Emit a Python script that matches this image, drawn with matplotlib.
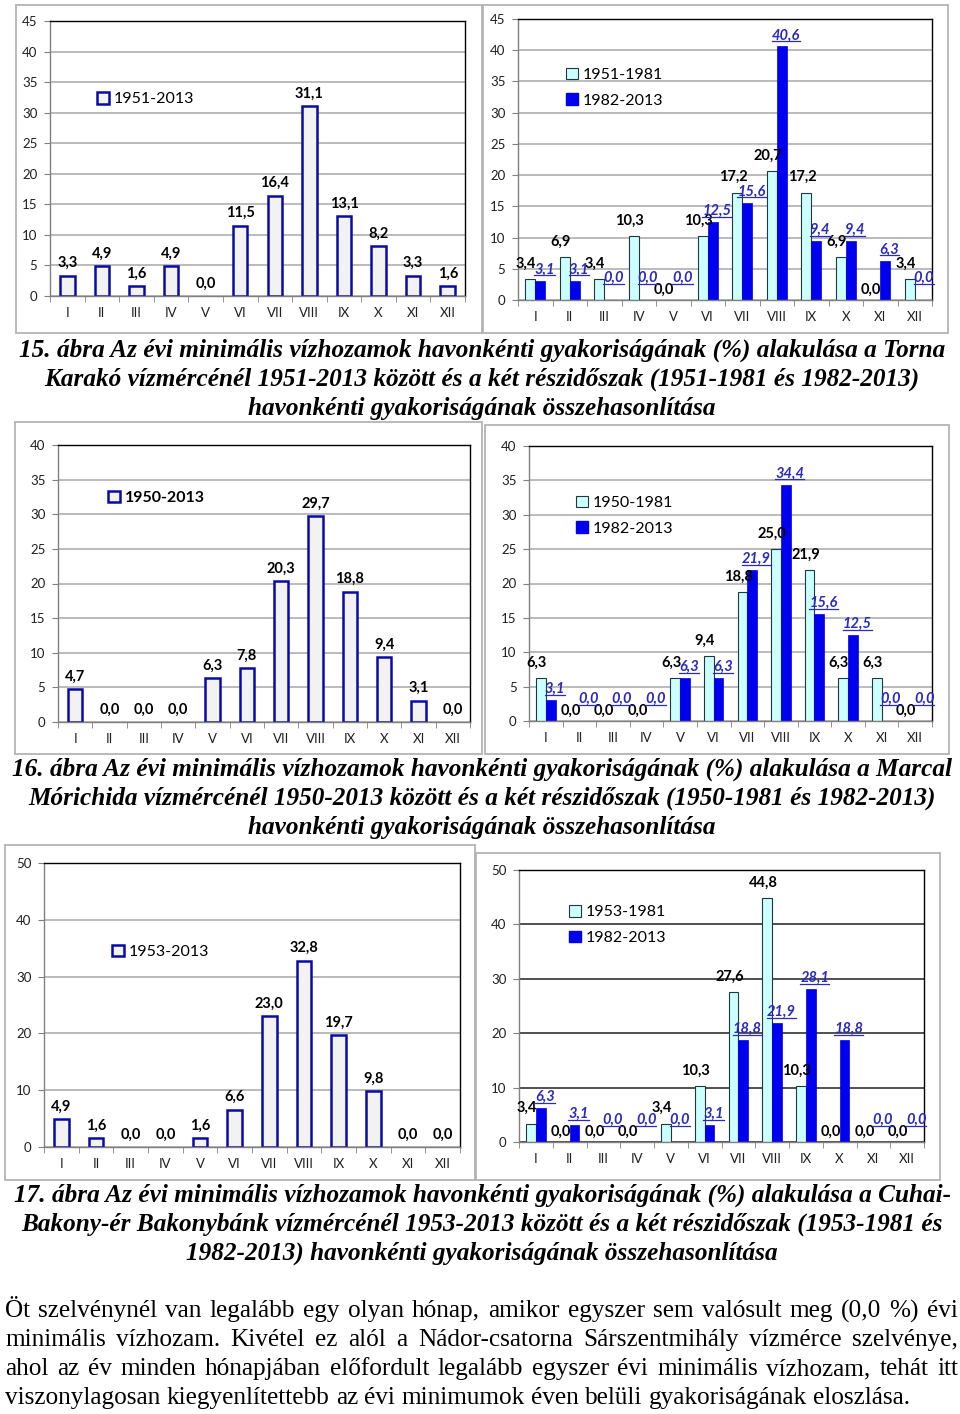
import numpy as np
import matplotlib.pyplot as plt
from matplotlib.patches import Patch, Rectangle
from matplotlib.lines import Line2D

plt.rcParams['font.family'] = ['Lato', 'DejaVu Sans']

months = ['I', 'II', 'III', 'IV', 'V', 'VI', 'VII', 'VIII', 'IX', 'X', 'XI', 'XII']

# Torna, Karakó
torna_all = [3.3, 4.9, 1.6, 4.9, 0.0, 11.5, 16.4, 31.1, 13.1, 8.2, 3.3, 1.6]
torna_early = [3.4, 6.9, 3.4, 10.3, 0.0, 10.3, 17.2, 20.7, 17.2, 6.9, 0.0, 3.4]
torna_late = [3.1, 3.1, 0.0, 0.0, 0.0, 12.5, 15.6, 40.6, 9.4, 9.4, 6.3, 0.0]

# Marcal, Mórichida
marcal_all = [4.7, 0.0, 0.0, 0.0, 6.3, 7.8, 20.3, 29.7, 18.8, 9.4, 3.1, 0.0]
marcal_early = [6.3, 0.0, 0.0, 0.0, 6.3, 9.4, 18.8, 25.0, 21.9, 6.3, 6.3, 0.0]
marcal_late = [3.1, 0.0, 0.0, 0.0, 6.3, 6.3, 21.9, 34.4, 15.6, 12.5, 0.0, 0.0]

# Cuhai-Bakony-ér, Bakonybánk
cuhai_all = [4.9, 1.6, 0.0, 0.0, 1.6, 6.6, 23.0, 32.8, 19.7, 9.8, 0.0, 0.0]
cuhai_early = [3.4, 0.0, 0.0, 0.0, 3.4, 10.3, 27.6, 44.8, 10.3, 0.0, 0.0, 0.0]
cuhai_late = [6.3, 3.1, 0.0, 0.0, 0.0, 3.1, 18.8, 21.9, 28.1, 18.8, 0.0, 0.0]

captions = [
    ["15. ábra Az évi minimális vízhozamok havonkénti gyakoriságának (%) alakulása a Torna",
     "Karakó vízmércénél 1951-2013 között és a két részidőszak (1951-1981 és 1982-2013)",
     "havonkénti gyakoriságának összehasonlítása"],
    ["16. ábra Az évi minimális vízhozamok havonkénti gyakoriságának (%) alakulása a Marcal",
     "Mórichida vízmércénél 1950-2013 között és a két részidőszak (1950-1981 és 1982-2013)",
     "havonkénti gyakoriságának összehasonlítása"],
    ["17. ábra Az évi minimális vízhozamok havonkénti gyakoriságának (%) alakulása a Cuhai-",
     "Bakony-ér Bakonybánk vízmércénél 1953-2013 között és a két részidőszak (1953-1981 és",
     "1982-2013) havonkénti gyakoriságának összehasonlítása"],
]

paragraph = [
    "Öt szelvénynél van legalább egy olyan hónap, amikor egyszer sem valósult meg (0,0 %) évi",
    "minimális vízhozam. Kivétel ez alól a Nádor-csatorna Sárszentmihály vízmérce szelvénye,",
    "ahol az év minden hónapjában előfordult legalább egyszer évi minimális vízhozam, tehát itt",
    "viszonylagosan kiegyenlítettebb az évi minimumok éven belüli gyakoriságának eloszlása.",
]

W, H = 960, 1414
fig = plt.figure(figsize=(9.6, 14.14), dpi=100)

BLUE = '#0000EE'
LINK = '#2A2AC0'
CYAN = '#CCFFFF'
LBL = 10.5
underlined = []


def box(l, t, r, b):
    return [l / W, 1 - b / H, (r - l) / W, (b - t) / H]


def frame(l, t, r, b):
    fig.add_artist(Rectangle((l / W, 1 - b / H), (r - l) / W, (b - t) / H,
                             transform=fig.transFigure, fill=False,
                             edgecolor='#B4B4B4', lw=1.3))


def fmt(v):
    return f'{v:.1f}'.replace('.', ',')


def setup(ax, ymax, ystep, grid_color='#A8A8A8'):
    ax.set_xlim(-0.5, 11.5)
    ax.set_ylim(0, ymax)
    ax.set_yticks(np.arange(0, ymax + 1, ystep))
    ax.yaxis.grid(True, color=grid_color, lw=1.1)
    ax.set_axisbelow(True)
    ax.set_xticks(np.arange(12))
    ax.set_xticklabels(months)
    ax.set_xticks(np.arange(-0.5, 12, 1), minor=True)
    ax.tick_params(axis='x', which='major', length=0, pad=8, labelsize=9.5, labelcolor='#202020')
    ax.tick_params(axis='x', which='minor', length=4, color='#808080')
    ax.tick_params(axis='y', length=4, pad=5, labelsize=9.5, labelcolor='#202020', color='#808080')
    for s in ax.spines.values():
        s.set_color('black')
        s.set_linewidth(1.0)
    ax.spines['bottom'].set_color('#808080')
    ax.spines['left'].set_color('#808080')


def single(pos, vals, ymax, ystep, name, leg_xy, bold_leg=False):
    ax = fig.add_axes(box(*pos))
    setup(ax, ymax, ystep)
    x = np.arange(12)
    bars = ax.bar(x, vals, width=0.42, facecolor='#F2F2F2', edgecolor='#0A0AA8', linewidth=1.8)
    for b, v in zip(bars, vals):
        if v == 0:
            b.set_linewidth(0)
    for xi, v in zip(x, vals):
        ax.annotate(fmt(v), (xi, v), xytext=(0, 4), textcoords='offset points',
                    ha='center', va='bottom', fontsize=LBL, fontweight='bold')
    h = [Patch(facecolor='#F2F2F2', edgecolor='#0A0AA8', linewidth=1.8)]
    ax.legend(h, [name], loc='center left', bbox_to_anchor=leg_xy, frameon=False,
              handlelength=0.75, handleheight=0.75, handletextpad=0.3,
              borderpad=0, borderaxespad=0,
              prop={'size': 11.5, 'weight': 'bold' if bold_leg else 'normal'})
    return ax


def double(pos, v1, v2, ymax, ystep, names, leg_xy, grid_color='#A8A8A8'):
    ax = fig.add_axes(box(*pos))
    setup(ax, ymax, ystep, grid_color)
    x = np.arange(12)
    w = 0.29
    b1 = ax.bar(x - w / 2, v1, w, facecolor=CYAN, edgecolor='#203838', linewidth=0.8)
    b2 = ax.bar(x + w / 2, v2, w, facecolor=BLUE, edgecolor=BLUE, linewidth=0.5)
    for b, v in list(zip(b1, v1)) + list(zip(b2, v2)):
        if v == 0:
            b.set_linewidth(0)
    for xi, v in zip(x, v1):
        dy = 2 if v == 0 else 6
        ax.annotate(fmt(v), (xi - w / 2, v), xytext=(-3, dy), textcoords='offset points',
                    ha='center', va='bottom', fontsize=LBL, fontweight='bold')
    for xi, v in zip(x, v2):
        dy = 11 if v == 0 else 3
        t = ax.annotate(fmt(v), (xi + w / 2, v), xytext=(3, dy), textcoords='offset points',
                        ha='center', va='bottom', fontsize=LBL, fontweight='bold',
                        fontstyle='italic', color=LINK)
        underlined.append(t)
    h = [Patch(facecolor=CYAN, edgecolor='#203838', linewidth=0.8),
         Patch(facecolor=BLUE, edgecolor=BLUE)]
    ax.legend(h, names, loc='center left', bbox_to_anchor=leg_xy, frameon=False,
              handlelength=0.75, handleheight=0.75, handletextpad=0.3,
              borderpad=0, borderaxespad=0, labelspacing=0.7, prop={'size': 11.5})
    return ax


# chart frames
frame(16, 5, 482, 333)
frame(483, 5, 948, 333)
frame(15, 422, 482, 754)
frame(485, 425, 949, 754)
frame(5, 845, 475, 1180)
frame(476, 853, 940, 1180)

single((50, 21, 465, 296), torna_all, 45, 5, '1951-2013', (0.113, 0.716))
double((518, 19, 932, 300), torna_early, torna_late, 45, 5,
       ['1951-1981', '1982-2013'], (0.116, 0.756))
single((58, 445, 470, 722), marcal_all, 40, 5, '1950-2013', (0.121, 0.809), bold_leg=True)
double((529, 446, 932, 721), marcal_early, marcal_late, 40, 5,
       ['1950-1981', '1982-2013'], (0.117, 0.747))
single((44, 863, 460, 1147), cuhai_all, 50, 10, '1953-2013', (0.163, 0.687))
double((519, 870, 924, 1142), cuhai_early, cuhai_late, 50, 10,
       ['1953-1981', '1982-2013'], (0.123, 0.798), grid_color='#202020')

# figure captions
serif = ['Liberation Serif', 'DejaVu Serif']
FS = 18.2
for lines, y0 in zip(captions, [350, 769, 1195]):
    for i, line in enumerate(lines):
        fig.text(482 / W, 1 - (y0 + 29 * i) / H, line, ha='center', va='center',
                 family=serif, style='italic', weight='bold', fontsize=FS)

# justified paragraph
renderer = fig.canvas.get_renderer()
for i, line in enumerate(paragraph):
    y = 1311 + 29 * i
    words = line.split(' ')
    widths = []
    for wd in words:
        t = fig.text(0, 0, wd, family=serif, fontsize=FS)
        widths.append(t.get_window_extent(renderer).width)
        t.remove()
    if i < len(paragraph) - 1:
        gap = (958 - 5 - sum(widths)) / (len(words) - 1)
    else:
        gap = 0.25 * FS * 100 / 72
    x = 5
    for wd, wdt in zip(words, widths):
        fig.text(x / W, 1 - y / H, wd, ha='left', va='center', family=serif, fontsize=FS)
        x += wdt + gap

# underline the italic data labels (hyperlink look of the original)
fig.canvas.draw()
inv = fig.transFigure.inverted()
for t in underlined:
    bb = t.get_window_extent(renderer)
    (x0, y0), (x1, _) = inv.transform([(bb.x0, bb.y0 + 1), (bb.x1, bb.y0 + 1)])
    fig.add_artist(Line2D([x0, x1], [y0, y0], transform=fig.transFigure, color=LINK, lw=0.9))

fig.savefig('out.png', dpi=100)
